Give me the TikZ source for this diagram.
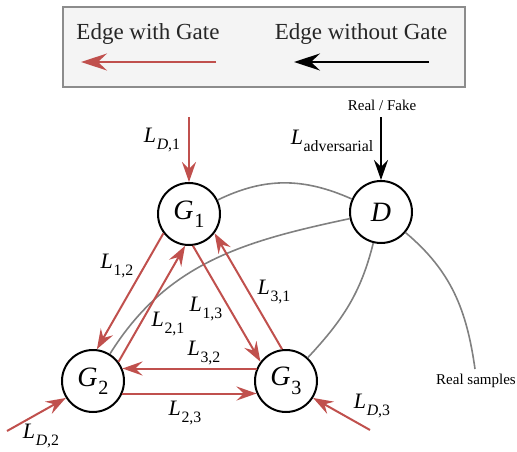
\documentclass[tikz,border=0pt]{standalone}
\usepackage{fontspec}
\setmainfont{Liberation Serif}
\usepackage{graphicx}
\usetikzlibrary{arrows.meta,calc}
\definecolor{gatered}{HTML}{C0504D}
\definecolor{edgegray}{HTML}{808080}
\definecolor{legfill}{HTML}{F4F4F4}
\definecolor{legdraw}{HTML}{8C8C8C}
\newcommand{\Lsub}[2]{\textit{#1}\kern0.03em\raisebox{-0.3em}{\scalebox{0.72}{#2}}}
\begin{document}
\begin{tikzpicture}[x=1pt,y=-1pt,
  gnode/.style={circle,draw=black,line width=2pt,minimum size=62pt,inner sep=0pt,font=\fontsize{28}{30}\selectfont},
  gate/.style={draw=gatered,line width=2pt,-{Stealth[length=20pt,width=14pt,inset=7pt]}},
  nogate/.style={draw=black,line width=2pt,-{Stealth[length=20pt,width=14pt,inset=7pt]}},
  leggate/.style={draw=gatered,line width=2pt,-{Stealth[length=26pt,width=17pt,inset=9pt]}},
  legnogate/.style={draw=black,line width=2pt,-{Stealth[length=26pt,width=17pt,inset=9pt]}},
  soft/.style={draw=edgegray,line width=1.6pt},
  lab/.style={font=\fontsize{22}{24}\selectfont,inner sep=0pt},
  small/.style={font=\fontsize{15}{17}\selectfont,inner sep=0pt},
  legtext/.style={font=\fontsize{23}{26}\selectfont,inner sep=0pt,text=black!85},
]
\useasboundingbox (0,0) rectangle (517,452);

% legend
\node[draw=legdraw,fill=legfill,line width=1.5pt,minimum width=402pt,minimum height=80pt,inner sep=0pt] (legend) at (264,47) {};
\node[legtext,anchor=base] (lt1) at (148,40) {Edge with Gate};
\node[legtext,anchor=base] (lt2) at (361,40) {Edge without Gate};
\coordinate (ra) at (216,62);
\coordinate (rb) at (81,62);
\coordinate (ka) at (429,62);
\coordinate (kb) at (294,62);
\draw[leggate] (ra) -- (rb);
\draw[legnogate] (ka) -- (kb);

% nodes
\node[gnode] (G1) at (189,214) {\Lsub{G}{1}};
\node[gnode] (G2) at (93,381) {\Lsub{G}{2}};
\node[gnode] (G3) at (286,381) {\Lsub{G}{3}};
\node[gnode] (D) at (381,212) {\textit{D}};

% gray connections
\coordinate (rs) at (475,369);
\draw[soft] (G1) to[out=26,in=156] (D);
\draw[soft] (G2) to[out=58,in=192] (D);
\draw[soft] (G3) to[out=47,in=256] (D);
\draw[soft] (D) to[out=-40,in=98] (rs);
\node[small] (rslab) at (476,381) {Real samples};

% inputs
\node[small] (rf) at (382,105) {Real / Fake};
\coordinate (rfs) at (381,117);
\draw[nogate] (rfs) -- (D.north);
\node[lab] (ladv) at (332,141) {\Lsub{L}{adversarial}};

\coordinate (d1s) at (189,117);
\draw[gate] (d1s) -- (G1.north);
\node[lab] (ld1) at (162,140) {\Lsub{L}{\textit{D},1}};

\coordinate (d2s) at (7,431);
\draw[gate] (d2s) -- (G2.212);
\node[lab] (ld2) at (41,436) {\Lsub{L}{\textit{D},2}};

\coordinate (d3s) at (370,430);
\draw[gate] (d3s) -- (G3.328);
\node[lab] (ld3) at (372,406) {\Lsub{L}{\textit{D},3}};

% gated edges between generators
\draw[gate] (G1.217) -- (G2.83);
\draw[gate] (G2.37) -- (G1.263);
\draw[gate] (G1.277) -- (G3.143);
\draw[gate] (G3.97) -- (G1.323);
\draw[gate] (G3.157) -- (G2.23);
\draw[gate] (G2.337) -- (G3.203);

\node[lab] (l12) at (117,266) {\Lsub{L}{1,2}};
\node[lab] (l21) at (168,324) {\Lsub{L}{2,1}};
\node[lab] (l13) at (206,309) {\Lsub{L}{1,3}};
\node[lab] (l31) at (274,292) {\Lsub{L}{3,1}};
\node[lab] (l32) at (204,353) {\Lsub{L}{3,2}};
\node[lab] (l23) at (185,413) {\Lsub{L}{2,3}};
\end{tikzpicture}
\end{document}
